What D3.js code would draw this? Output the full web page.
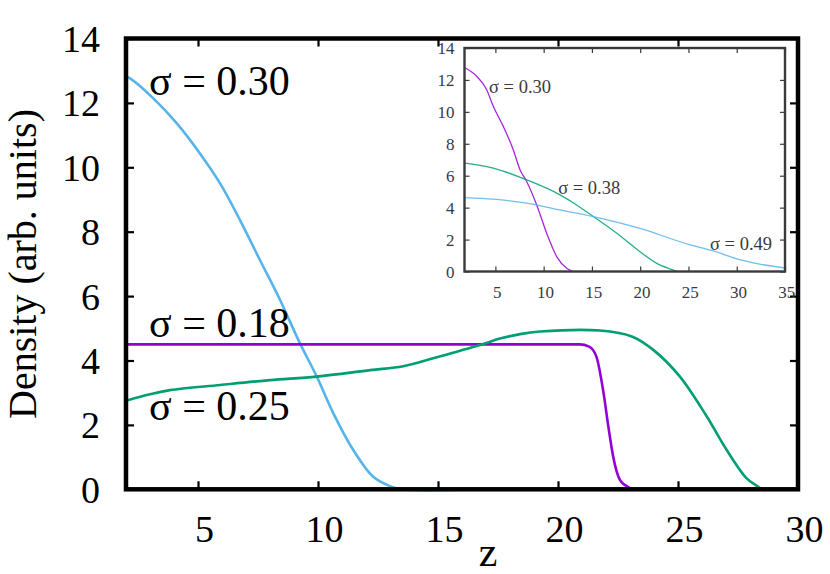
<!DOCTYPE html>
<html>
<head>
<meta charset="utf-8">
<script src="https://cdn.jsdelivr.net/npm/d3@7"></script>
<style>
  html, body { margin: 0; padding: 0; background: #fff; }
  svg { display: block; }
  text { font-family: "Liberation Serif", "Times New Roman", serif; }
</style>
</head>
<body>
<svg id="chart" width="830" height="574"></svg>
<script>
// ---------- main panel data ----------
const mainXTicks = [5, 10, 15, 20, 25, 30];
const mainYTicks = [0, 2, 4, 6, 8, 10, 12, 14];

const sigma030 = [[2,12.82],[2.17,12.76],[3.14,12.14],[4.11,11.37],[5.08,10.43],[5.92,9.5],[6.75,8.36],
  [7.58,7.12],[8.42,5.88],[9.25,4.53],[9.95,3.5],[10.64,2.36],[11.47,1.22],[12.3,0.39],[13.0,0.1],
  [13.5,0],[16.5,0]];
const sigma018 = [[2,4.5],[10,4.5],[20.9,4.5],[21.3,4.43],[21.6,4.12],[21.9,2.98],[22.1,1.94],
  [22.3,1.01],[22.58,0.29],[22.86,0.1],[23.1,0]];
const sigma025 = [[2,2.75],[3,2.95],[3.83,3.08],[5.92,3.24],[8,3.39],[9.95,3.5],[12.17,3.7],
  [13.55,3.82],[14.95,4.1],[16.75,4.48],[17.58,4.68],[18.42,4.82],[19.25,4.9],[21.75,4.93],
  [23.1,4.74],[23.97,4.33],[25.08,3.5],[26.2,2.26],[27.03,1.22],[27.86,0.34],[28.3,0.1],[28.5,0]];

const mainLabels = [
  { text: "σ = 0.30", x: 2.96, y: 12.25 },
  { text: "σ = 0.18", x: 2.96, y: 4.73 },
  { text: "σ = 0.25", x: 2.96, y: 2.15 }
];

// ---------- inset data ----------
const insetXTicks = [5, 10, 15, 20, 25, 30, 35];
const insetYTicks = [0, 2, 4, 6, 8, 10, 12, 14];

const insetSigma030 = [[1.85,12.76],[3.06,12.23],[4.1,11.39],[4.78,10.35],[5.82,9.09],[6.85,7.63],
  [7.55,6.37],[8.24,5.64],[9.28,4.17],[10.31,2.4],[11.35,0.93],[12.39,0.2],[12.9,0.03],[13.0,0]];
const insetSigma038 = [[1.85,6.79],[4.78,6.48],[8.24,5.74],[11.69,4.8],[13.42,4.17],[15.14,3.44],
  [17.57,2.4],[19.98,1.24],[21.71,0.51],[23.43,0.09],[23.8,0]];
const insetSigma049 = [[1.85,4.63],[4.78,4.53],[8.24,4.28],[11.69,3.86],[15.14,3.44],[19.98,2.7],
  [25.0,1.7],[27.5,1.3],[30.3,0.74],[32.5,0.45],[35,0.22]];

const insetLabels = [
  { text: "σ = 0.30", x: 4.34, y: 11.2 },
  { text: "σ = 0.38", x: 11.5, y: 4.87 },
  { text: "σ = 0.49", x: 27.23, y: 1.35 }
];

// ---------- colours ----------
const PURPLE = "#9400d3", GREEN = "#009e73", BLUE = "#56b4e9";

const svg = d3.select("#chart");
svg.append("rect").attr("width", 830).attr("height", 574).attr("fill", "#fff");

// ---------- main panel ----------
const M = { left: 126, right: 798, top: 38.5, bottom: 489.3 };
const x = d3.scaleLinear().domain([2, 30]).range([M.left, M.right]);
const y = d3.scaleLinear().domain([0, 14]).range([M.bottom, M.top]);

const mainG = svg.append("g");

const smooth = d3.line().x(d => x(d[0])).y(d => y(d[1])).curve(d3.curveCatmullRom.alpha(0.5));
const mono = d3.line().x(d => x(d[0])).y(d => y(d[1])).curve(d3.curveMonotoneX);

[[sigma030, BLUE, smooth], [sigma018, PURPLE, mono], [sigma025, GREEN, smooth]].forEach(([data, col, gen]) => {
  mainG.append("path").datum(data).attr("d", gen)
    .attr("fill", "none").attr("stroke", col).attr("stroke-width", 2.6)
    .attr("stroke-linejoin", "round");
});

// axes (ticks inward, mirrored)
const tl = 8;
const axL = d3.axisLeft(y).tickValues(mainYTicks).tickSize(-tl).tickPadding(26);
const axR = d3.axisRight(y).tickValues(mainYTicks).tickSize(-tl).tickFormat("");
const axB = d3.axisBottom(x).tickValues(mainXTicks).tickSize(-tl).tickPadding(26);
const axT = d3.axisTop(x).tickValues(mainXTicks).tickSize(-tl).tickFormat("");

function styleAxis(g, fs, col, sw) {
  g.select(".domain").remove();
  g.selectAll(".tick line").attr("stroke", col).attr("stroke-width", sw);
  g.selectAll(".tick text").attr("fill", col).style("font-size", fs + "px")
    .style("font-family", '"Liberation Serif", "Times New Roman", serif');
}
const gL = mainG.append("g").attr("transform", `translate(${M.left},0)`).call(axL);
styleAxis(gL, 38, "#000", 2.2);
gL.selectAll(".tick text").attr("dy", "0.34em");
const gR = mainG.append("g").attr("transform", `translate(${M.right},0)`).call(axR);
styleAxis(gR, 38, "#000", 2.2);
const gB = mainG.append("g").attr("transform", `translate(0,${M.bottom})`).call(axB);
styleAxis(gB, 38, "#000", 2.2);
gB.selectAll(".tick text").attr("dx", 6).attr("dy", "0.71em");
const gT = mainG.append("g").attr("transform", `translate(0,${M.top})`).call(axT);
styleAxis(gT, 38, "#000", 2.2);

// frame
mainG.append("rect").attr("x", M.left).attr("y", M.top)
  .attr("width", M.right - M.left).attr("height", M.bottom - M.top)
  .attr("fill", "none").attr("stroke", "#000").attr("stroke-width", 4.5);

// labels
mainG.selectAll("text.lab").data(mainLabels).enter().append("text")
  .attr("class", "lab").attr("x", d => x(d.x)).attr("y", d => y(d.y))
  .style("font-size", "42px").attr("fill", "#000").text(d => d.text);

// axis titles
svg.append("text").attr("x", 488).attr("y", 566).attr("text-anchor", "middle")
  .style("font-size", "42px").text("z");
svg.append("text").attr("transform", "translate(36,264) rotate(-90)")
  .attr("text-anchor", "middle").style("font-size", "40px").text("Density (arb. units)");

// ---------- inset ----------
const I = { left: 464.5, right: 785, top: 48, bottom: 271.5 };
const xi = d3.scaleLinear().domain([1.8, 35]).range([I.left, I.right]);
const yi = d3.scaleLinear().domain([0, 14]).range([I.bottom, I.top]);
const insetG = svg.append("g");
insetG.append("rect").attr("x", I.left).attr("y", I.top)
  .attr("width", I.right - I.left).attr("height", I.bottom - I.top).attr("fill", "#fff");

const lineInset = d3.line().x(d => xi(d[0])).y(d => yi(d[1])).curve(d3.curveMonotoneX);
[[insetSigma030, PURPLE], [insetSigma038, GREEN], [insetSigma049, BLUE]].forEach(([data, col]) => {
  insetG.append("path").datum(data).attr("d", lineInset)
    .attr("fill", "none").attr("stroke", col).attr("stroke-width", 1.3).attr("stroke-opacity", 0.85);
});

const IC = "#3a3a3a";
const itl = 5;
const iL = insetG.append("g").attr("transform", `translate(${I.left},0)`)
  .call(d3.axisLeft(yi).tickValues(insetYTicks).tickSize(-itl).tickPadding(10));
styleAxis(iL, 17, IC, 1.2);
iL.selectAll(".tick text").attr("dy", "0.34em");
const iR = insetG.append("g").attr("transform", `translate(${I.right},0)`)
  .call(d3.axisRight(yi).tickValues(insetYTicks).tickSize(-itl).tickFormat(""));
styleAxis(iR, 17, IC, 1.2);
const iB = insetG.append("g").attr("transform", `translate(0,${I.bottom})`)
  .call(d3.axisBottom(xi).tickValues(insetXTicks).tickSize(-itl).tickPadding(14));
styleAxis(iB, 17, IC, 1.2);
iB.selectAll(".tick text").attr("dx", 1.3).attr("dy", "0.71em");
const iT = insetG.append("g").attr("transform", `translate(0,${I.top})`)
  .call(d3.axisTop(xi).tickValues(insetXTicks).tickSize(-itl).tickFormat(""));
styleAxis(iT, 17, IC, 1.2);

insetG.append("rect").attr("x", I.left).attr("y", I.top)
  .attr("width", I.right - I.left).attr("height", I.bottom - I.top)
  .attr("fill", "none").attr("stroke", IC).attr("stroke-width", 2.4);

insetG.selectAll("text.ilab").data(insetLabels).enter().append("text")
  .attr("class", "ilab").attr("x", d => xi(d.x)).attr("y", d => yi(d.y))
  .style("font-size", "18.5px").attr("fill", IC).text(d => d.text);
</script>
</body>
</html>
